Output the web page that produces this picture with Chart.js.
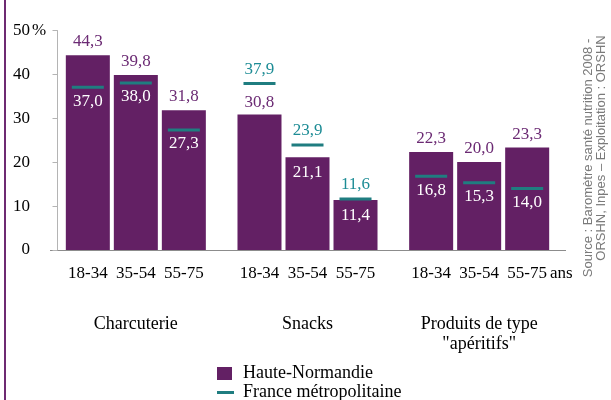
<!DOCTYPE html>
<html>
<head>
<meta charset="utf-8">
<script src="https://cdn.jsdelivr.net/npm/chart.js@4/dist/chart.umd.min.js"></script>
<style>
  body { margin: 0; background: #fff; }
  #wrap { position: relative; width: 611px; height: 400px; overflow: hidden; }
  #edge { position: absolute; left: 4px; top: 0; width: 2px; height: 400px; background: #6e2a72; }
  canvas { position: absolute; left: 0; top: 0; }
  .leg { position: absolute; left: 217px; font: 18px 'Liberation Serif', serif; line-height: 19px; color: #000; white-space: nowrap; }
  .leg i { position: absolute; left: 0; }
  .leg span { margin-left: 26px; }
</style>
</head>
<body>
<div id="wrap">
  <div id="edge"></div>
  <canvas id="chart" width="611" height="400"></canvas>
  <div class="leg" id="leg0" style="top:363px"><i style="top:4px;width:15px;height:13px;background:#632064"></i><span></span></div>
  <div class="leg" id="leg1" style="top:382px"><i style="top:9px;width:17px;height:3px;background:#1f7d80"></i><span></span></div>
</div>
<script>
// Data
const groups = ['Charcuterie', 'Snacks', ['Produits de type', '"apéritifs"']];
const ageBands = ['18-34', '35-54', '55-75'];
const seriesNames = ['Haute-Normandie', 'France métropolitaine'];
// one value per group x age band, in reading order
const hnValues = [44.3, 39.8, 31.8, 30.8, 21.1, 11.4, 22.3, 20.0, 23.3];
const frValues = [37.0, 38.0, 27.3, 37.9, 23.9, 11.6, 16.8, 15.3, 14.0];
const yTicks = [0, 10, 20, 30, 40, 50];

const purple = '#632064';
const purpleText = '#6b2a73';
const teal = '#1f7d80';
const tealText = '#1d8c95';
const serif = "'Liberation Serif', 'Times New Roman', serif";

document.querySelector('#leg0 span').textContent = seriesNames[0];
document.querySelector('#leg1 span').textContent = seriesNames[1];

const fmt = v => v.toFixed(1).replace('.', ',');
const val = (arr, g, a) => arr[g * ageBands.length + a];

const catPct = 0.839;
const markHalf = 0.34; // half thickness of the France mark, in %

const datasets = [];
ageBands.forEach((band, a) => {
  datasets.push({
    label: seriesNames[1] + ' ' + band,
    data: groups.map((g, gi) => [val(frValues, gi, a) - markHalf, val(frValues, gi, a) + markHalf]),
    backgroundColor: teal,
    stack: 'age' + a,
    order: 0,
    barPercentage: 32 / 48,
    categoryPercentage: catPct
  });
});
ageBands.forEach((band, a) => {
  datasets.push({
    label: seriesNames[0] + ' ' + band,
    data: groups.map((g, gi) => val(hnValues, gi, a)),
    backgroundColor: purple,
    stack: 'age' + a,
    order: 1,
    barPercentage: 44 / 48,
    categoryPercentage: catPct
  });
});

const overlay = {
  id: 'overlay',
  afterDatasetsDraw(chart) {
    const { ctx, chartArea, scales } = chart;
    const y = scales.y;
    ctx.save();

    // y axis line and tick marks
    const ax = chartArea.left + 7.5;
    ctx.strokeStyle = '#b4b4b4';
    ctx.lineWidth = 1;
    ctx.beginPath();
    ctx.moveTo(ax, y.getPixelForValue(0));
    ctx.lineTo(ax, y.getPixelForValue(50));
    yTicks.forEach(t => {
      const py = Math.round(y.getPixelForValue(t)) + 0.5;
      ctx.moveTo(ax - 5, py);
      ctx.lineTo(ax, py);
    });
    ctx.stroke();

    ctx.font = '17px ' + serif;
    ctx.textBaseline = 'middle';
    ctx.textAlign = 'left';
    ctx.fillStyle = '#000';
    ctx.fillText('%', chartArea.left - 20 + 2, y.getPixelForValue(50));

    // value labels
    ctx.textAlign = 'center';
    ageBands.forEach((band, a) => {
      const hnMeta = chart.getDatasetMeta(ageBands.length + a);
      groups.forEach((g, gi) => {
        const bar = hnMeta.data[gi];
        const hn = val(hnValues, gi, a);
        const fr = val(frValues, gi, a);
        const yh = y.getPixelForValue(hn);
        const yf = y.getPixelForValue(fr);
        if (hn >= fr) {
          ctx.fillStyle = purpleText;
          ctx.fillText(fmt(hn), bar.x, yh - 13.5);
          ctx.fillStyle = '#fff';
          ctx.fillText(fmt(fr), bar.x, yf + 14);
        } else {
          ctx.fillStyle = tealText;
          ctx.fillText(fmt(fr), bar.x, yf - 14);
          if (yh - yf > 28) {
            ctx.fillStyle = purpleText;
            ctx.fillText(fmt(hn), bar.x, yh - 12);
          } else {
            ctx.fillStyle = '#fff';
            ctx.fillText(fmt(hn), bar.x, yh + 15.5);
          }
        }
        // age band labels under each bar
        ctx.fillStyle = '#000';
        ctx.fillText(band, bar.x, chartArea.bottom + 24);
        if (gi === groups.length - 1 && a === ageBands.length - 1) {
          const w = ctx.measureText(band).width;
          ctx.textAlign = 'left';
          ctx.fillText('ans', bar.x + w / 2 + 3, chartArea.bottom + 24);
          ctx.textAlign = 'center';
        }
      });
    });

    // source, written vertically
    ctx.fillStyle = '#7a7a7a';
    ctx.font = "13px 'Liberation Sans', Arial, sans-serif";
    ctx.textAlign = 'center';
    [['Source : Baromètre santé nutrition 2008 -', 588, 158], ['ORSHN, Inpes – Exploitation : ORSHN', 601, 148]].forEach(([txt, x, cy]) => {
      ctx.save();
      ctx.translate(x, cy);
      ctx.rotate(-Math.PI / 2);
      ctx.fillText(txt, 0, 0);
      ctx.restore();
    });
    ctx.restore();
  }
};

new Chart(document.getElementById('chart'), {
  type: 'bar',
  data: { labels: groups, datasets },
  options: {
    responsive: false,
    animation: false,
    layout: { padding: { top: 25, right: 46, left: 0, bottom: 0 } },
    plugins: { legend: { display: false }, tooltip: { enabled: false } },
    scales: {
      x: {
        grid: { display: false, drawTicks: false },
        border: { display: true, color: '#8c8c8c', width: 1 },
        ticks: { color: '#000', font: { family: serif, size: 18, lineHeight: 1.11 }, padding: 64, maxRotation: 0 },
        afterFit: s => { s.height = 150; }
      },
      y: {
        min: 0,
        max: 50,
        stacked: false,
        grid: { display: false, drawTicks: false },
        border: { display: false },
        ticks: { stepSize: 10, color: '#000', font: { family: serif, size: 17 }, padding: 20 },
        afterFit: s => { s.width = 50; }
      }
    }
  },
  plugins: [overlay]
});
</script>
</body>
</html>
